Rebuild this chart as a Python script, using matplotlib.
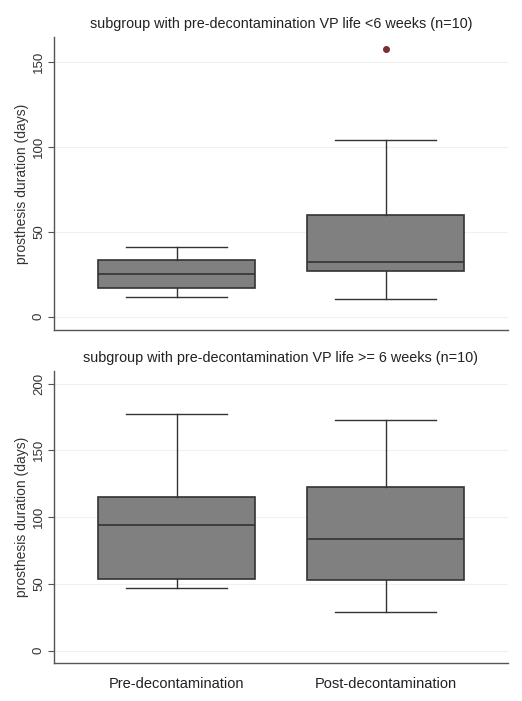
import matplotlib
matplotlib.use("Agg")
import matplotlib.pyplot as plt

plt.rcParams['font.family'] = ['Liberation Sans', 'DejaVu Sans']

categories = ["Pre-decontamination", "Post-decontamination"]
titles = ["subgroup with pre-decontamination VP life <6 weeks (n=10)",
          "subgroup with pre-decontamination VP life >= 6 weeks (n=10)"]

# panel 1 (<6 weeks)
p1_whislo = [11.4, 10.2]
p1_q1 = [16.7, 26.9]
p1_med = [25.1, 32.2]
p1_q3 = [33.3, 59.6]
p1_whishi = [41.2, 103.9]
p1_fliers = [[], [157.3]]
p1_ticks = [0, 50, 100, 150]

# panel 2 (>=6 weeks)
p2_whislo = [47.2, 28.7]
p2_q1 = [53.9, 53.1]
p2_med = [94.1, 83.4]
p2_q3 = [115.3, 122.3]
p2_whishi = [177.0, 172.4]
p2_fliers = [[], []]
p2_ticks = [0, 50, 100, 150, 200]

fig = plt.figure(figsize=(5.22, 7.01), dpi=100)
ax1 = fig.add_axes([0.1034, 0.5292, 0.8696, 0.4184])
ax2 = fig.add_axes([0.1034, 0.0538, 0.8696, 0.4174])

def draw(ax, wl, q1, med, q3, wh, fl, ticks, ylim, title, xlabels):
    stats = []
    for i in range(len(categories)):
        stats.append(dict(whislo=wl[i], q1=q1[i], med=med[i], q3=q3[i],
                          whishi=wh[i], fliers=fl[i], label=categories[i]))
    ax.bxp(stats, positions=[1, 2], widths=0.75, patch_artist=True,
           showfliers=True,
           boxprops=dict(facecolor='#808080', edgecolor='#333333', linewidth=1.2),
           medianprops=dict(color='#333333', linewidth=1.2),
           whiskerprops=dict(color='#333333', linewidth=1.0),
           capprops=dict(color='#333333', linewidth=1.0),
           capwidths=0.48,
           flierprops=dict(marker='o', markerfacecolor='#7a2e2e',
                           markeredgecolor='#7a2e2e', markersize=4))
    ax.set_xlim(0.413, 2.585)
    ax.set_ylim(*ylim)
    ax.set_yticks(ticks)
    ax.set_yticklabels([str(t) for t in ticks], rotation=90, va='center',
                       fontsize=9.5, color='#333333')
    ax.yaxis.grid(True, color='#f0f0f0', linewidth=0.8)
    ax.set_axisbelow(True)
    for s in ['top', 'right']:
        ax.spines[s].set_visible(False)
    for s in ['left', 'bottom']:
        ax.spines[s].set_color('#555555')
        ax.spines[s].set_linewidth(1.0)
    ax.tick_params(axis='y', length=4, color='#555555', pad=2.5)
    ax.tick_params(axis='x', length=0, labelsize=10.5, labelcolor='#222222', pad=10)
    if not xlabels:
        ax.set_xticklabels([])
    ax.set_ylabel("prosthesis duration (days)", fontsize=10, color='#333333')
    ax.yaxis.set_label_coords(-0.054, 0.5)
    ax.set_title(title, fontsize=10.4, color='#222222', pad=6)

draw(ax1, p1_whislo, p1_q1, p1_med, p1_q3, p1_whishi, p1_fliers, p1_ticks,
     (-7.8, 164.7), titles[0], False)
draw(ax2, p2_whislo, p2_q1, p2_med, p2_q3, p2_whishi, p2_fliers, p2_ticks,
     (-9.4, 209.6), titles[1], True)

fig.savefig("out.png", dpi=100, facecolor='white')
